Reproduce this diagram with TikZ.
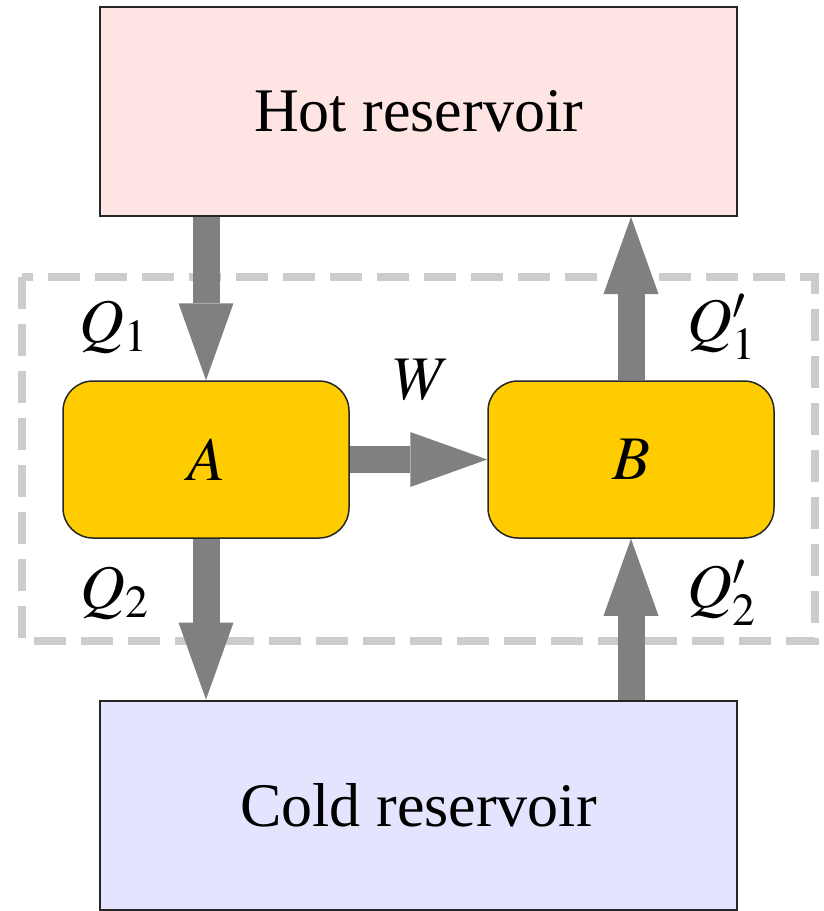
\documentclass[tikz,border=0pt]{standalone}
\usepackage{mathptmx}
\usepackage{fontspec}
\setmainfont{Liberation Serif}
\usetikzlibrary{arrows.meta}
\definecolor{hotfill}{RGB}{255,228,228}
\definecolor{coldfill}{RGB}{228,228,255}
\definecolor{engfill}{RGB}{255,204,0}
\definecolor{flowgray}{RGB}{128,128,128}
\definecolor{dashgray}{RGB}{204,204,204}
\tikzset{
  reservoir/.style={draw=black!85, line width=2pt, minimum width=637pt, inner sep=0pt},
  engine/.style={draw=black!85, line width=1.5pt, fill=engfill, rounded corners=30pt,
    minimum width=286pt, minimum height=157pt, inner sep=0pt},
  flow/.style={draw=flowgray, line width=27pt,
    -{Triangle[width=55pt,length=77pt,line width=0pt]}, fill=flowgray},
  lbl/.style={inner sep=0pt},
  sysbox/.style={draw=dashgray, line width=8pt, dash pattern=on 32pt off 15pt}
}
\begin{document}
\begin{tikzpicture}[x=1pt,y=-1pt, font=\fontsize{62}{70}\selectfont]
\useasboundingbox (0,0) rectangle (823,911);
\draw[sysbox] (22,277) rectangle (815,641);
\node[reservoir, fill=hotfill, minimum height=209pt] (hot) at (418.5,111.5) {Hot reservoir};
\node[reservoir, fill=coldfill, minimum height=209pt] (cold) at (418.5,805) {Cold reservoir};
\node[engine] (A) at (206,459.5) {$A$};
\node[engine] (B) at (631,459.5) {$B$};
\draw[flow] (hot.south -| A) -- (A.north);
\draw[flow] (B.north) -- (hot.south -| B);
\draw[flow] (A.south) -- (cold.north -| A);
\draw[flow] (cold.north -| B) -- (B.south);
\draw[flow] (A.east) -- (B.west);
\node[lbl] (q1) at (114,327) {$Q_1$};
\node[lbl] (q1p) at (722,327) {$Q'_1$};
\node[lbl] (q2) at (115,593) {$Q_2$};
\node[lbl] (q2p) at (722,593) {$Q'_2$};
\node[lbl] (w) at (422,380) {$W$};
\end{tikzpicture}
\end{document}
